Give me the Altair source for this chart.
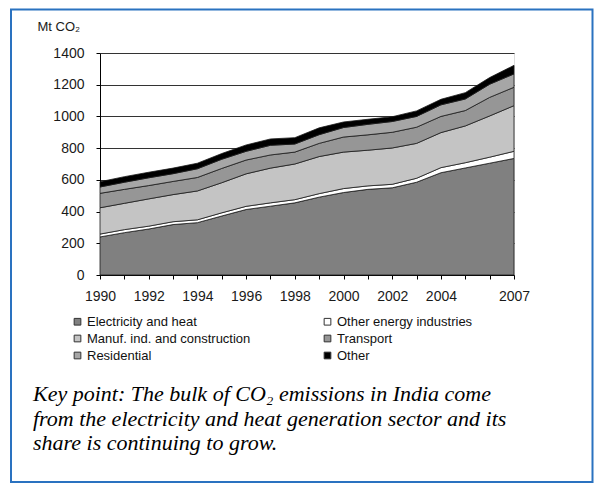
import altair as alt
import pandas as pd

years = list(range(1990, 2008))
sectors = ["Electricity and heat", "Other energy industries", "Manuf. ind. and construction",
           "Transport", "Residential", "Other"]
electricity = [240, 267, 290, 318, 330, 372, 413, 434, 455, 491, 520, 540, 550, 585, 645, 675, 705, 735]
other_energy = [18, 19, 18, 18, 18, 20, 20, 21, 20, 22, 25, 22, 22, 25, 32, 33, 38, 45]
manuf = [166, 166, 172, 171, 182, 190, 205, 219, 225, 234, 230, 225, 229, 220, 221, 232, 260, 288]
transport = [91, 88, 84, 83, 85, 90, 87, 83, 75, 83, 95, 97, 99, 102, 102, 97, 117, 116]
residential = [40, 45, 49, 49, 55, 58, 55, 61, 51, 55, 60, 66, 68, 68, 73, 73, 83, 84]
other = [33, 35, 35, 35, 35, 36, 40, 40, 40, 43, 35, 32, 30, 35, 35, 40, 42, 54]
series = [electricity, other_energy, manuf, transport, residential, other]
colors = ["#808080", "#ffffff", "#c4c4c4", "#969696", "#a6a6a6", "#000000"]
y_ticks = [0, 200, 400, 600, 800, 1000, 1200, 1400]
x_labels = [1990, 1992, 1994, 1996, 1998, 2000, 2002, 2004, 2007]
caption = [
    "Key point: The bulk of CO\u2082 emissions in India come",
    "from the electricity and heat generation sector and its",
    "share is continuing to grow.",
]
y_title = "Mt CO\u2082"

rows = []
for i, (name, vals) in enumerate(zip(sectors, series)):
    for yr, v in zip(years, vals):
        rows.append({"year": yr, "sector": name, "value": v, "idx": i})
df = pd.DataFrame(rows)

label_expr = "indexof(" + str(x_labels) + ", datum.value) >= 0 ? datum.label : ''"

area = alt.Chart(df).mark_area(stroke="#1a1a1a", strokeWidth=0.8).encode(
    x=alt.X("year:Q",
            scale=alt.Scale(domain=[1990, 2007], nice=False, zero=False),
            axis=alt.Axis(values=years, labelExpr=label_expr, format="d", labelOverlap=False,
                          grid=False, tickSize=4, labelPadding=10, title=None,
                          domainColor="#000", tickColor="#000", labelFont="Liberation Sans",
                          labelFontSize=14, labelColor="#1a1a1a", labelFlush=False)),
    y=alt.Y("value:Q", stack="zero",
            scale=alt.Scale(domain=[0, 1400], nice=False),
            axis=alt.Axis(values=y_ticks, format="d", title=y_title, titleAngle=0,
                          titleX=-63, titleY=-27,
                          titleAlign="left", titleBaseline="middle", titleFont="Liberation Sans",
                          titleFontSize=13, titleFontWeight="normal", titleColor="#1a1a1a",
                          grid=True, gridColor="#333", gridWidth=1, tickSize=4, labelPadding=12,
                          domainColor="#000", tickColor="#000", labelFont="Liberation Sans",
                          labelFontSize=14, labelColor="#1a1a1a")),
    color=alt.Color("sector:N", sort=sectors,
                    scale=alt.Scale(domain=sectors, range=colors),
                    legend=alt.Legend(orient="none", legendX=-29, legendY=262, columns=2,
                                      direction="horizontal",
                                      title=None, symbolType="square", symbolSize=45,
                                      symbolStrokeColor="#333", symbolStrokeWidth=1,
                                      labelFont="Liberation Sans", labelFontSize=13,
                                      labelColor="#111", columnPadding=70, rowPadding=3,
                                      labelOffset=3, labelLimit=300, gridAlign="all")),
    order=alt.Order("idx:Q", sort="ascending"),
)

frame = alt.Chart(pd.DataFrame({"k": [0]})).mark_rect(
    fillOpacity=0, stroke="#2a72c0", strokeWidth=2
).encode(x=alt.value(-89), x2=alt.value(492.5), y=alt.value(-43.5), y2=alt.value(429))

cap = alt.Chart(pd.DataFrame({"k": [0]})).mark_text(
    align="left", baseline="top", font="Liberation Serif", fontStyle="italic",
    fontSize=22, lineHeight=24.5, color="#000"
).encode(x=alt.value(-67), y=alt.value(331), text=alt.value(caption))

chart = alt.layer(frame, area, cap).properties(
    width=414, height=222,
    autosize=alt.AutoSizeParams(type="none"),
    padding={"left": 92, "top": 45, "right": 80, "bottom": 208},
).configure_view(stroke="#222", strokeWidth=1).configure(background="white")

chart.save("out.html", embed_options={"renderer": "svg", "actions": False})
